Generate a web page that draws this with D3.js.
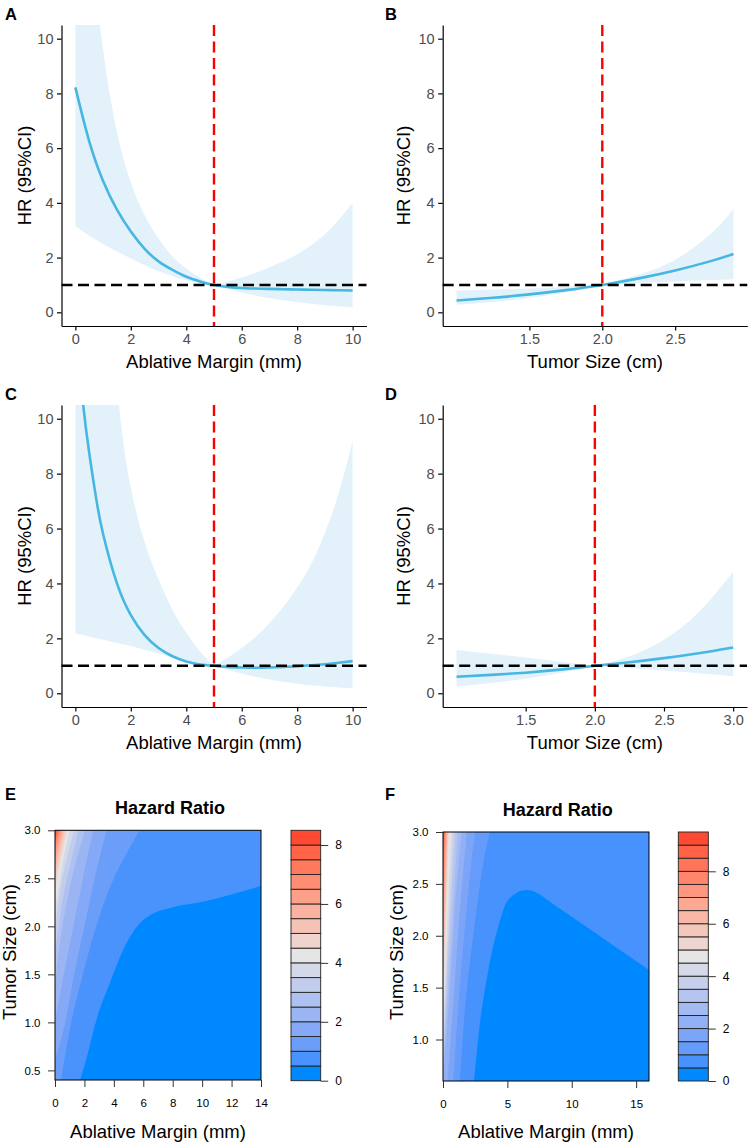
<html>

<head>
    <script src="https://cdn.jsdelivr.net/npm/d3@7"></script>
    <style>
        body { margin: 0; background: #fff; }
        svg { display: block; }
        text { font-family: "Liberation Sans", Arial, Helvetica, sans-serif; }
    </style>
</head>

<body>
    <script>

        /*
         * restricted cubic spline data
         * HR with lower / upper 95% CI
         */

        // A - ablative margin (mm), model 1
        var marginA = [0, 0.5, 1, 1.5, 2, 2.5, 3, 3.5, 4, 4.5, 5, 5.5, 6, 6.5, 7, 7.5, 8, 8.5, 9, 9.5, 10];
        var hrA = [8.22, 6.25, 4.8, 3.75, 2.95, 2.32, 1.86, 1.55, 1.3, 1.13, 1.0, 0.93, 0.89, 0.87, 0.855, 0.845, 0.835, 0.825, 0.815, 0.807, 0.8];
        var upperA = [19, 14, 9.6, 6.6, 4.75, 3.55, 2.7, 2.05, 1.6, 1.26, 1.0, 1.12, 1.28, 1.45, 1.65, 1.87, 2.12, 2.45, 2.85, 3.38, 4.0];
        var lowerA = [3.15, 2.8, 2.5, 2.22, 1.97, 1.72, 1.5, 1.32, 1.17, 1.07, 1.0, 0.85, 0.72, 0.61, 0.52, 0.44, 0.37, 0.31, 0.26, 0.22, 0.18];

        // B - tumor size (cm), model 1
        var sizeB = [1.0, 1.25, 1.5, 1.75, 2.0, 2.25, 2.5, 2.75, 2.9];
        var hrB = [0.43, 0.53, 0.655, 0.81, 1.0, 1.24, 1.53, 1.88, 2.13];
        var upperB = [0.79, 0.83, 0.87, 0.93, 1.0, 1.38, 1.92, 2.9, 3.78];
        var lowerB = [0.28, 0.38, 0.52, 0.72, 1.0, 1.08, 1.13, 1.18, 1.21];

        // C - ablative margin (mm), model 2
        var marginC = [0, 0.25, 0.5, 0.75, 1, 1.5, 2, 2.5, 3, 3.5, 4, 4.5, 5, 5.5, 6, 6.5, 7, 7.5, 8, 8.5, 9, 9.5, 10];
        var hrC = [13.5, 10.8, 8.75, 7.1, 5.8, 4.0, 2.85, 2.12, 1.65, 1.35, 1.16, 1.05, 1.0, 0.96, 0.94, 0.93, 0.94, 0.96, 0.98, 1.02, 1.06, 1.11, 1.17];
        var upperC = [36, 31, 26.5, 22.2, 18.2, 11.3, 7.5, 5.5, 4.15, 3.05, 2.2, 1.52, 1.0, 1.3, 1.65, 2.05, 2.55, 3.15, 3.85, 4.7, 5.85, 7.3, 9.2];
        var lowerC = [2.18, 2.12, 2.06, 2.0, 1.95, 1.83, 1.72, 1.58, 1.45, 1.3, 1.17, 1.07, 1.0, 0.85, 0.72, 0.6, 0.5, 0.42, 0.35, 0.29, 0.25, 0.21, 0.18];

        // D - tumor size (cm), model 2
        var sizeD = [1.0, 1.25, 1.5, 1.75, 2.0, 2.25, 2.5, 2.75, 3.0];
        var hrD = [0.6, 0.67, 0.75, 0.86, 1.0, 1.13, 1.28, 1.46, 1.67];
        var upperD = [1.58, 1.44, 1.3, 1.15, 1.0, 1.35, 1.95, 2.95, 4.43];
        var lowerD = [0.24, 0.37, 0.53, 0.74, 1.0, 0.92, 0.83, 0.73, 0.63];

        // y ticks shared by the four spline panels
        var hrTicks = [0, 2, 4, 6, 8, 10];

        /*
         * hazard ratio surfaces (E, F) - contour boundaries as [margin, size]
         * hump = edge of the lowest band (HR < 0.5)
         * bands = HR >= level lies left of each boundary
         */
        var humpE = [[1.72, 0.4], [2.3, 0.72], [2.8, 1.02], [3.7, 1.4], [4.84, 1.82], [5.75, 2.03], [6.65, 2.13], [8.02, 2.2], [9.84, 2.25], [14, 2.42]];
        var levelsE = [1, 1.5, 2, 2.5, 3, 3.5, 4, 4.5, 5, 5.5, 6, 6.5, 7, 7.5, 8];
        var edgesE = [
            [[0.41, 0.4], [1.1, 1.0], [1.9, 1.5], [2.8, 2.0], [4.0, 2.5], [5.75, 3.0]],
            [[0, 0.6], [0.7, 1.0], [1.3, 1.5], [2.0, 2.0], [2.7, 2.5], [3.5, 3.0]],
            [[0, 1.0], [0.6, 1.5], [1.25, 2.0], [1.9, 2.5], [2.6, 3.0]],
            [[0, 1.4], [0.5, 2.0], [1.3, 2.6], [2.05, 3.0]],
            [[0, 1.7], [0.55, 2.3], [1.6, 3.0]],
            [[0, 1.95], [0.5, 2.5], [1.3, 3.0]],
            [[0, 2.15], [0.45, 2.6], [1.0, 3.0]],
            [[0, 2.35], [0.4, 2.7], [0.82, 3.0]],
            [[0, 2.5], [0.68, 3.0]],
            [[0, 2.6], [0.56, 3.0]],
            [[0, 2.7], [0.46, 3.0]],
            [[0, 2.78], [0.37, 3.0]],
            [[0, 2.85], [0.28, 3.0]],
            [[0, 2.9], [0.2, 3.0]],
            [[0, 2.95], [0.12, 3.0]]
        ];

        var humpF = [[2.41, 0.6], [2.75, 1.03], [3.52, 1.67], [4.3, 2.09], [5.08, 2.35], [6.5, 2.44], [8.96, 2.27], [11.55, 2.05], [16, 1.67]];
        var levelsF = [1, 1.5, 2, 2.5, 3, 3.5, 4, 4.5, 5, 5.5, 6, 6.5, 7, 7.5, 8, 8.5, 9];
        var edgesF = [
            [[1.32, 0.6], [1.75, 1.35], [2.5, 2.15], [3.2, 2.75], [3.65, 3.0]],
            [[0.8, 0.6], [1.2, 1.35], [1.75, 2.15], [2.2, 2.7], [2.5, 3.0]],
            [[0.35, 0.6], [0.8, 1.35], [1.25, 2.15], [1.85, 3.0]],
            [[0, 0.62], [0.55, 1.5], [0.95, 2.3], [1.45, 3.0]],
            [[0, 0.72], [0.5, 1.7], [1.15, 3.0]],
            [[0, 0.82], [0.45, 1.9], [0.95, 3.0]],
            [[0, 0.95], [0.4, 2.0], [0.78, 3.0]],
            [[0, 1.1], [0.62, 3.0]],
            [[0, 1.3], [0.47, 3.0]],
            [[0, 1.5], [0.4, 3.0]],
            [[0, 1.7], [0.34, 3.0]],
            [[0, 1.9], [0.28, 3.0]],
            [[0, 2.1], [0.23, 3.0]],
            [[0, 2.35], [0.18, 3.0]],
            [[0, 2.55], [0.13, 3.0]],
            [[0, 2.75], [0.09, 3.0]],
            [[0, 2.9], [0.04, 3.0]]
        ];

        // colour key
        var keyTicks = [0, 2, 4, 6, 8];
        var keyMaxE = 8.5, keyMaxF = 9.5;

        // colours
        var lineBlue = "#46B6E3", ribbonBlue = "#E3F2FA";
        var blueEnd = "#0088FF", greyMid = "#E5E5E5", redEnd = "#FF4A33";

        var svg = d3.select("body")
            .append("svg")
            .attr("width", 749)
            .attr("height", 1144);

        svg.append("rect").attr("width", 749).attr("height", 1144).attr("fill", "#fff");

        function panelLabel(txt, x, y) {
            svg.append("text")
                .attr("x", x).attr("y", y)
                .attr("font-size", "16.5px")
                .attr("font-weight", "bold")
                .text(txt);
        }

        /*
         * spline panel: ribbon, curve, dashed reference lines, ggplot classic axes
         */
        function drawSpline(cfg) {
            var x = d3.scaleLinear().domain(cfg.xDomain).range([cfg.left, cfg.right]);
            var y = d3.scaleLinear().domain([-0.5, 10.5]).range([cfg.bottom, cfg.top]);

            var rows = cfg.xs.map(function (v, i) {
                return { x: v, hr: cfg.hr[i], lo: cfg.lo[i], up: cfg.up[i] };
            });

            var clipId = "clip" + cfg.label;
            svg.append("clipPath").attr("id", clipId)
                .append("rect")
                .attr("x", cfg.left).attr("y", cfg.top)
                .attr("width", cfg.right - cfg.left)
                .attr("height", cfg.bottom - cfg.top);

            var plot = svg.append("g").attr("clip-path", "url(#" + clipId + ")");

            // CI pinches at the reference value, so each side is its own piece
            var ribbon = d3.area().curve(d3.curveNatural)
                .x(d => x(d.x)).y0(d => y(d.lo)).y1(d => y(d.up));
            [rows.filter(d => d.x <= cfg.cut), rows.filter(d => d.x >= cfg.cut)].forEach(function (part) {
                plot.append("path")
                    .datum(part)
                    .attr("fill", ribbonBlue)
                    .attr("d", ribbon);
            });

            plot.append("path")
                .datum(rows)
                .attr("fill", "none")
                .attr("stroke", lineBlue)
                .attr("stroke-width", 2.6)
                .attr("d", d3.line().curve(d3.curveNatural)
                    .x(d => x(d.x)).y(d => y(d.hr)));

            // HR = 1
            svg.append("line")
                .attr("x1", cfg.left).attr("x2", cfg.right)
                .attr("y1", y(1)).attr("y2", y(1))
                .attr("stroke", "#000").attr("stroke-width", 2.4)
                .attr("stroke-dasharray", "11,5.5");

            // cut-off
            svg.append("line")
                .attr("x1", x(cfg.cut)).attr("x2", x(cfg.cut))
                .attr("y1", cfg.top).attr("y2", cfg.bottom)
                .attr("stroke", "#FF0000").attr("stroke-width", 2.4)
                .attr("stroke-dasharray", "11,5.5");

            var xAxisGroup = svg.append("g")
                .attr("transform", "translate(0," + cfg.bottom + ")")
                .call(d3.axisBottom(x).tickValues(cfg.xTicks).tickFormat(cfg.xFormat)
                    .tickSize(4.5).tickSizeOuter(0).tickPadding(3));

            var yAxisGroup = svg.append("g")
                .attr("transform", "translate(" + cfg.left + ",0)")
                .call(d3.axisLeft(y).tickValues(hrTicks).tickFormat(d3.format("d"))
                    .tickSize(4.5).tickSizeOuter(0).tickPadding(3.5));

            [xAxisGroup, yAxisGroup].forEach(function (ax) {
                ax.select(".domain").attr("stroke", "#000").attr("stroke-width", 1.2);
                ax.selectAll(".tick line").attr("stroke", "#000").attr("stroke-width", 1.2);
                ax.selectAll(".tick text")
                    .attr("fill", "#4D4D4D")
                    .attr("font-size", "14.5px")
                    .attr("font-family", '"Liberation Sans", Arial, sans-serif');
            });

            svg.append("text")
                .attr("x", (cfg.left + cfg.right) / 2)
                .attr("y", cfg.bottom + 36)
                .attr("dy", "0.35em")
                .attr("text-anchor", "middle")
                .attr("font-size", "18.5px")
                .text(cfg.xTitle);

            svg.append("text")
                .attr("transform", "translate(" + cfg.yTitleX + "," + (cfg.top + cfg.bottom) / 2 + ") rotate(-90)")
                .attr("dy", "0.35em")
                .attr("text-anchor", "middle")
                .attr("font-size", "18.5px")
                .text("HR (95%CI)");

            panelLabel(cfg.label, cfg.labelX, cfg.labelY);
        }

        /*
         * filled contour panel with colour key (R filled.contour look)
         */
        function drawHeat(cfg) {
            var x = d3.scaleLinear().domain(cfg.xDomain).range([cfg.left, cfg.right]);
            var y = d3.scaleLinear().domain(cfg.yDomain).range([cfg.bottom, cfg.top]);

            var nBands = Math.round(cfg.keyMax / 0.5);
            var ramp = d3.piecewise(d3.interpolateLab, [blueEnd, greyMid, redEnd]);
            var bandColour = function (k) { return ramp(k / (nBands - 1)); };

            var xMin = cfg.xDomain[0], xMax = cfg.xDomain[1];
            var yMin = cfg.yDomain[0], yMax = cfg.yDomain[1];

            var clipId = "clip" + cfg.label;
            svg.append("clipPath").attr("id", clipId)
                .append("rect")
                .attr("x", cfg.left).attr("y", cfg.top)
                .attr("width", cfg.right - cfg.left)
                .attr("height", cfg.bottom - cfg.top);

            var plot = svg.append("g").attr("clip-path", "url(#" + clipId + ")");

            // band 0.5 - 1 fills everything first
            plot.append("rect")
                .attr("x", cfg.left).attr("y", cfg.top)
                .attr("width", cfg.right - cfg.left)
                .attr("height", cfg.bottom - cfg.top)
                .attr("fill", bandColour(1));

            // lowest band (HR < 0.5)
            var humpLine = d3.line().curve(d3.curveMonotoneX)
                .x(d => x(d[0])).y(d => y(d[1]));
            plot.append("path")
                .attr("fill", bandColour(0))
                .attr("d", humpLine(cfg.hump) + "L" + x(xMax) + "," + y(yMin) + "Z");

            // higher bands, left of each boundary
            var edgeLine = d3.line().curve(d3.curveCatmullRom.alpha(0.5))
                .x(d => x(d[0])).y(d => y(d[1]));

            cfg.levels.forEach(function (lev, i) {
                var pts = cfg.edges[i];
                var d = edgeLine(pts);
                if (pts[0][0] > xMin) {
                    d = "M" + x(xMin) + "," + y(yMin) + "L" + d.slice(1);
                }
                d += "L" + x(xMin) + "," + y(yMax) + "Z";
                plot.append("path")
                    .attr("fill", bandColour(Math.round(lev / 0.5)))
                    .attr("d", d);
            });

            svg.append("rect")
                .attr("x", cfg.left).attr("y", cfg.top)
                .attr("width", cfg.right - cfg.left)
                .attr("height", cfg.bottom - cfg.top)
                .attr("fill", "none").attr("stroke", "#000").attr("stroke-width", 1);

            var xAxisGroup = svg.append("g")
                .attr("transform", "translate(0," + cfg.bottom + ")")
                .call(d3.axisBottom(x).tickValues(cfg.xTicks).tickFormat(d3.format("d"))
                    .tickSize(7).tickSizeOuter(0).tickPadding(12));

            var yAxisGroup = svg.append("g")
                .attr("transform", "translate(" + cfg.left + ",0)")
                .call(d3.axisLeft(y).tickValues(cfg.yTicks).tickFormat(d3.format(".1f"))
                    .tickSize(7).tickSizeOuter(0).tickPadding(7.5));

            [xAxisGroup, yAxisGroup].forEach(function (ax) {
                ax.select(".domain").remove();
                ax.selectAll(".tick line").attr("stroke", "#333").attr("stroke-width", 1);
                ax.selectAll(".tick text")
                    .attr("fill", "#000")
                    .attr("font-size", "11.5px")
                    .attr("font-family", '"Liberation Sans", Arial, sans-serif');
            });

            // colour key
            var k = d3.scaleLinear().domain([0, cfg.keyMax]).range([cfg.keyBottom, cfg.keyTop]);
            svg.append("g")
                .selectAll("rect")
                .data(d3.range(nBands))
                .join("rect")
                .attr("x", cfg.keyLeft)
                .attr("width", cfg.keyRight - cfg.keyLeft)
                .attr("y", d => k((d + 1) * 0.5))
                .attr("height", d => k(d * 0.5) - k((d + 1) * 0.5))
                .attr("fill", d => bandColour(d))
                .attr("stroke", "#222")
                .attr("stroke-width", 0.9);

            var keyAxis = svg.append("g")
                .attr("transform", "translate(" + cfg.keyRight + ",0)")
                .call(d3.axisRight(k).tickValues(keyTicks).tickFormat(d3.format("d"))
                    .tickSize(7.5).tickSizeOuter(0).tickPadding(7));
            keyAxis.select(".domain").remove();
            keyAxis.selectAll(".tick line").attr("stroke", "#333").attr("stroke-width", 1);
            keyAxis.selectAll(".tick text")
                .attr("fill", "#000")
                .attr("font-size", "12px")
                .attr("font-family", '"Liberation Sans", Arial, sans-serif');

            svg.append("text")
                .attr("x", cfg.titleX).attr("y", cfg.titleY)
                .attr("text-anchor", "middle")
                .attr("font-size", "18px")
                .attr("font-weight", "bold")
                .text("Hazard Ratio");

            svg.append("text")
                .attr("x", (cfg.left + cfg.right) / 2)
                .attr("y", 1138)
                .attr("text-anchor", "middle")
                .attr("font-size", "18.5px")
                .text("Ablative Margin (mm)");

            svg.append("text")
                .attr("transform", "translate(" + cfg.yTitleX + "," + cfg.yTitleY + ") rotate(-90)")
                .attr("dy", "0.35em")
                .attr("text-anchor", "middle")
                .attr("font-size", "18.5px")
                .text("Tumor Size (cm)");

            panelLabel(cfg.label, cfg.labelX, cfg.labelY);
        }

        drawSpline({
            label: "A", labelX: 5, labelY: 20,
            left: 61.5, right: 366.5, top: 25, bottom: 326,
            xDomain: [-0.5, 10.5], xTicks: [0, 2, 4, 6, 8, 10], xFormat: d3.format("d"),
            xTitle: "Ablative Margin (mm)", yTitleX: 25, cut: 5,
            xs: marginA, hr: hrA, up: upperA, lo: lowerA
        });

        drawSpline({
            label: "B", labelX: 385, labelY: 20,
            left: 442.7, right: 747.3, top: 25, bottom: 326,
            xDomain: [0.905, 2.995], xTicks: [1.5, 2.0, 2.5], xFormat: d3.format(".1f"),
            xTitle: "Tumor Size (cm)", yTitleX: 404, cut: 2,
            xs: sizeB, hr: hrB, up: upperB, lo: lowerB
        });

        drawSpline({
            label: "C", labelX: 5, labelY: 400,
            left: 61.5, right: 366.5, top: 405, bottom: 707,
            xDomain: [-0.5, 10.5], xTicks: [0, 2, 4, 6, 8, 10], xFormat: d3.format("d"),
            xTitle: "Ablative Margin (mm)", yTitleX: 25, cut: 5,
            xs: marginC, hr: hrC, up: upperC, lo: lowerC
        });

        drawSpline({
            label: "D", labelX: 385, labelY: 400,
            left: 442.7, right: 747, top: 405, bottom: 707,
            xDomain: [0.9, 3.1], xTicks: [1.5, 2.0, 2.5, 3.0], xFormat: d3.format(".1f"),
            xTitle: "Tumor Size (cm)", yTitleX: 404, cut: 2,
            xs: sizeD, hr: hrD, up: upperD, lo: lowerD
        });

        drawHeat({
            label: "E", labelX: 5, labelY: 800,
            left: 55, right: 261, top: 830.3, bottom: 1080,
            xDomain: [0, 14], yDomain: [0.4, 3.0],
            xTicks: [0, 2, 4, 6, 8, 10, 12, 14], yTicks: [0.5, 1.0, 1.5, 2.0, 2.5, 3.0],
            hump: humpE, levels: levelsE, edges: edgesE,
            keyMax: keyMaxE, keyLeft: 291, keyRight: 320.7, keyTop: 830.3, keyBottom: 1080.7,
            titleX: 170, titleY: 814, yTitleX: 9.5, yTitleY: 952
        });

        drawHeat({
            label: "F", labelX: 385, labelY: 800,
            left: 443, right: 649, top: 832, bottom: 1081,
            xDomain: [0, 16], yDomain: [0.6, 3.0],
            xTicks: [0, 5, 10, 15], yTicks: [1.0, 1.5, 2.0, 2.5, 3.0],
            hump: humpF, levels: levelsF, edges: edgesF,
            keyMax: keyMaxF, keyLeft: 678.3, keyRight: 708.3, keyTop: 832, keyBottom: 1081,
            titleX: 557.7, titleY: 816, yTitleX: 396.7, yTitleY: 952
        });

    </script>
</body>

</html>
